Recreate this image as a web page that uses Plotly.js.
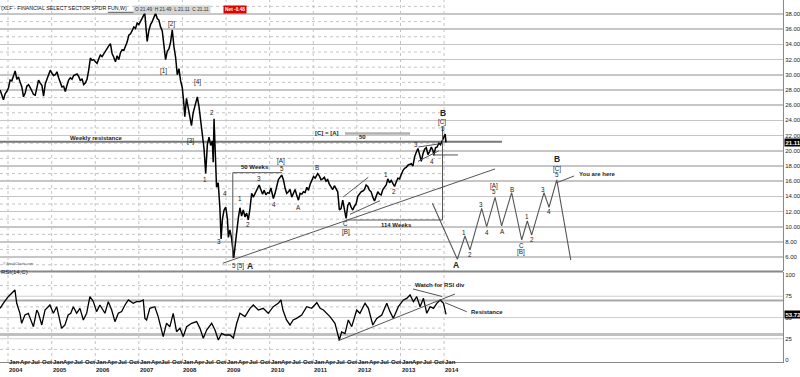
<!DOCTYPE html>
<html><head><meta charset="utf-8">
<script src="https://cdn.plot.ly/plotly-3.0.1.min.js"></script>
<style>html,body{margin:0;padding:0;background:#fff}#chart{width:800px;height:377px}</style>
</head><body><div id="chart"></div>
<script>
// ---------- DATA ----------
const priceDates = [
'2003-10-27','2003-11-10','2003-11-24','2003-12-08','2003-12-22',
'2004-01-05','2004-01-19','2004-02-02','2004-02-16','2004-03-01','2004-03-15','2004-03-29','2004-04-12','2004-04-26','2004-05-10','2004-05-24','2004-06-07','2004-06-21','2004-07-05','2004-07-19','2004-08-02','2004-08-16','2004-08-30','2004-09-13','2004-09-27','2004-10-11','2004-10-25','2004-11-08','2004-11-22','2004-12-06','2004-12-20',
'2005-01-03','2005-01-17','2005-01-31','2005-02-14','2005-02-28','2005-03-14','2005-03-28','2005-04-11','2005-04-25','2005-05-09','2005-05-23','2005-06-06','2005-06-20','2005-07-04','2005-07-18','2005-08-01','2005-08-15','2005-08-29','2005-09-12','2005-09-26','2005-10-10','2005-10-24','2005-11-07','2005-11-21','2005-12-05','2005-12-19',
'2006-01-02','2006-01-16','2006-01-30','2006-02-13','2006-02-27','2006-03-13','2006-03-27','2006-04-10','2006-04-24','2006-05-08','2006-05-22','2006-06-05','2006-06-19','2006-07-03','2006-07-17','2006-07-31','2006-08-14','2006-08-28','2006-09-11','2006-09-25','2006-10-09','2006-10-23','2006-11-06','2006-11-20','2006-12-04','2006-12-18',
'2007-01-01','2007-01-15','2007-01-29','2007-02-12','2007-02-20','2007-03-05','2007-03-12','2007-03-26','2007-04-09','2007-04-23','2007-05-07','2007-05-21','2007-06-04','2007-06-18','2007-07-02','2007-07-16','2007-07-30','2007-08-13','2007-08-27','2007-09-10','2007-09-24','2007-10-08','2007-10-22','2007-11-05','2007-11-19','2007-12-03','2007-12-17','2007-12-31',
'2008-01-14','2008-01-21','2008-02-04','2008-02-18','2008-03-03','2008-03-17','2008-03-31','2008-04-14','2008-04-28','2008-05-05','2008-05-19','2008-06-02','2008-06-16','2008-06-30','2008-07-14','2008-07-28','2008-08-11','2008-08-25','2008-09-08','2008-09-15','2008-09-22','2008-09-29','2008-10-06','2008-10-13','2008-10-27','2008-11-10','2008-11-20','2008-12-01','2008-12-15','2008-12-29',
'2009-01-12','2009-01-20','2009-02-02','2009-02-16','2009-03-06','2009-03-16','2009-03-30','2009-04-13','2009-04-27','2009-05-11','2009-05-25','2009-06-08','2009-06-22','2009-07-06','2009-07-20','2009-08-03','2009-08-17','2009-08-31','2009-09-14','2009-10-05','2009-10-19','2009-11-02','2009-11-16','2009-11-30','2009-12-14','2009-12-28',
'2010-01-11','2010-02-01','2010-02-15','2010-03-01','2010-03-15','2010-04-12','2010-04-26','2010-05-10','2010-05-24','2010-06-07','2010-06-21','2010-07-05','2010-07-19','2010-08-02','2010-08-16','2010-08-30','2010-09-13','2010-09-27','2010-10-11','2010-10-25','2010-11-08','2010-11-22','2010-12-06','2010-12-20',
'2011-01-03','2011-01-17','2011-02-07','2011-02-21','2011-03-07','2011-03-21','2011-04-04','2011-04-18','2011-05-02','2011-05-16','2011-05-30','2011-06-13','2011-06-27','2011-07-11','2011-07-25','2011-08-08','2011-08-22','2011-09-05','2011-09-19','2011-10-03','2011-10-17','2011-10-31','2011-11-14','2011-11-28','2011-12-12','2011-12-26',
'2012-01-09','2012-01-23','2012-02-06','2012-02-20','2012-03-05','2012-03-19','2012-04-02','2012-04-16','2012-04-30','2012-05-14','2012-05-28','2012-06-11','2012-06-25','2012-07-09','2012-07-23','2012-08-06','2012-08-20','2012-09-03','2012-09-17','2012-10-01','2012-10-15','2012-10-29','2012-11-12','2012-11-26','2012-12-10','2012-12-24',
'2013-01-07','2013-01-21','2013-02-04','2013-02-18','2013-03-04','2013-03-18','2013-04-01','2013-04-15','2013-04-29','2013-05-13','2013-05-27','2013-06-10','2013-06-24','2013-07-08','2013-07-22','2013-08-05','2013-08-19','2013-09-02','2013-09-16','2013-09-30','2013-10-07','2013-10-21','2013-11-04','2013-11-18','2013-12-02','2013-12-16','2013-12-30',
'2014-01-10','2014-01-17'
];
const priceClose = [
28.0,27.4,26.7,27.5,27.8,
28.3,29.3,29.2,30.0,30.5,29.4,29.7,29.0,28.4,27.1,27.6,28.5,28.7,28.3,27.8,27.4,27.3,28.4,29.3,28.9,28.6,27.2,28.8,29.4,29.9,30.6,
30.2,29.9,30.0,30.4,29.6,29.0,28.4,28.5,27.8,28.6,29.3,29.6,29.4,29.9,30.0,30.1,29.8,29.2,29.5,28.7,28.9,29.4,30.6,32.2,31.9,32.0,
31.7,31.5,32.1,32.6,32.4,32.8,33.1,33.5,33.8,34.1,32.8,32.3,31.7,32.5,32.0,32.9,33.3,33.2,33.7,34.3,35.2,35.4,35.8,36.3,36.1,36.8,
36.6,37.0,37.3,37.9,38.1,35.6,34.4,35.8,36.6,37.0,37.6,38.1,37.4,37.2,36.3,35.8,33.9,32.0,33.1,33.4,34.3,35.9,33.7,32.3,30.0,30.8,29.2,28.3,
26.0,24.5,26.9,25.7,24.6,23.3,25.0,25.8,26.4,27.1,25.8,24.0,22.4,20.3,17.0,20.8,21.8,20.7,21.3,18.5,24.2,20.5,16.0,15.2,15.8,12.5,8.4,11.0,12.2,12.6,
11.0,8.6,9.6,8.5,5.9,7.4,8.7,11.1,12.5,11.4,12.2,11.3,11.8,10.9,12.4,14.4,13.9,14.4,14.8,15.5,14.9,14.3,14.8,14.2,14.5,14.4,
15.1,13.7,14.4,15.3,16.2,16.8,16.2,15.1,14.4,14.6,14.9,13.9,14.5,14.9,14.1,13.5,14.4,14.3,14.6,14.5,15.2,14.8,15.6,16.0,
16.6,16.4,17.0,16.7,16.2,16.3,16.5,16.0,16.2,15.6,15.3,14.9,15.4,15.0,14.6,12.2,12.4,13.5,12.3,11.1,12.8,13.2,12.6,12.2,12.7,13.0,
14.0,14.4,14.6,14.7,14.9,15.5,15.3,14.8,14.6,13.9,13.4,14.0,14.6,14.3,14.2,14.9,15.2,15.5,16.3,15.8,16.1,15.6,15.3,15.9,16.4,16.3,
17.0,17.4,17.7,17.8,18.1,18.2,18.3,18.0,19.2,19.8,20.3,19.5,18.6,19.6,20.2,20.4,19.5,19.9,20.5,20.0,19.4,20.4,20.5,21.0,20.8,21.3,21.9,
22.2,21.11
];
const rsiDates = [
'2003-10-27','2003-11-22','2004-01-03','2004-02-14','2004-02-28','2004-03-14','2004-04-10','2004-04-24','2004-05-22','2004-06-19','2004-08-01','2004-08-29','2004-09-12','2004-10-10','2004-11-06','2004-12-17',
'2005-01-15','2005-02-12','2005-03-25','2005-04-22','2005-05-19','2005-06-10','2005-07-01','2005-07-29','2005-08-26','2005-09-23','2005-10-21','2005-11-17','2005-12-15',
'2006-01-12','2006-02-09','2006-03-23','2006-04-20','2006-05-18','2006-06-15','2006-07-13','2006-08-10','2006-09-07','2006-10-05','2006-11-15','2006-12-13',
'2007-01-10','2007-02-07','2007-02-21','2007-03-07','2007-04-03','2007-05-15','2007-06-12','2007-07-24','2007-08-21','2007-09-18','2007-10-16','2007-11-13','2007-12-11',
'2008-01-08','2008-02-05','2008-03-18','2008-04-29','2008-05-27','2008-06-24','2008-07-22','2008-09-02','2008-09-30','2008-10-28','2008-11-25','2008-12-23',
'2009-02-03','2009-03-03','2009-03-31','2009-04-27','2009-06-08','2009-07-20','2009-08-17','2009-09-28','2009-11-08','2009-12-20',
'2010-01-31','2010-03-14','2010-04-05','2010-04-22','2010-05-22','2010-06-20','2010-07-17','2010-08-14','2010-09-26','2010-11-07','2010-12-19',
'2011-01-31','2011-02-28','2011-03-27','2011-04-24','2011-05-21','2011-07-02','2011-07-16','2011-08-07','2011-08-27','2011-09-24','2011-10-22','2011-11-19','2011-12-31',
'2012-01-27','2012-03-10','2012-04-07','2012-05-14','2012-06-16','2012-07-28','2012-09-08','2012-10-05','2012-11-02','2012-12-14',
'2013-01-25','2013-02-22','2013-03-22','2013-04-19','2013-05-17','2013-06-14','2013-07-12','2013-08-09','2013-09-06','2013-10-04','2013-11-01','2013-11-29','2013-12-27',
'2014-01-17'
];
const rsiValues = [
60.8,66.7,74.5,80.4,82.4,66.7,54.9,43.2,52.9,54.9,39.2,58.8,55.0,41.2,58.8,64.7,
54.9,62.7,37.3,41.2,52.9,55.0,62.7,55.0,60.8,47.1,55.0,74.5,69.0,
56.9,64.7,55.0,68.6,59.0,45.1,55.0,57.0,64.7,70.6,66.7,68.6,
68.6,70.6,49.0,47.1,60.8,62.7,51.0,27.5,43.2,39.2,54.9,33.3,37.3,
27.5,39.2,43.2,45.1,37.3,25.5,35.3,43.2,35.3,23.5,31.4,29.4,
29.4,25.9,43.2,54.9,51.0,60.8,64.7,58.8,60.8,54.9,
62.7,66.7,70.6,58.8,47.1,41.2,47.1,49.0,52.9,62.7,60.8,
67.4,60.8,58.8,54.9,51.0,43.2,35.3,23.5,33.0,31.0,47.1,39.2,58.8,
54.9,66.7,60.8,41.2,49.0,52.9,66.7,56.9,49.0,62.7,
70.6,72.5,76.5,68.6,74.5,62.7,72.5,54.9,62.7,60.8,66.7,70.6,66.7,
53.7
];
// hand-drawn projected path (decimal years / price)
const projYears  = [2013.732,2014.305,2014.482,2014.596,2014.865,2014.979,2015.170,2015.323,2015.553,2015.782,2015.911,2016.011,2016.294,2016.408,2016.585,2016.906];
const projPrices = [13.09,5.72,8.79,6.95,12.43,10.01,13.88,10.11,14.49,8.26,10.76,8.92,14.49,12.57,16.16,5.63];
// wave count labels [text, decimal year, price]
const waveLabels = [
['[2]',2007.755,36.68],['[1]',2007.578,30.5],['[4]',2008.342,29.09],['2',2008.686,25.07],['[3]',2008.19,21.33],
['1',2008.518,16.16],['4',2008.977,14.32],['3',2008.839,8.04],['5',2009.183,4.88],['[5]',2009.337,4.88],
['1',2009.321,13.66],['2',2009.511,10.33],['3',2009.764,16.29],['[A]',2010.261,18.66],['5',2010.278,17.70],
['4',2010.101,12.96],['A',2010.658,12.57],['B',2011.08,17.78],['C',2011.752,10.46],['[B]',2011.752,9.36],
['1',2012.67,16.91],['2',2012.86,14.62],['3',2013.351,20.89],['4',2013.718,18.57],['5',2013.984,22.87],['[C]',2013.954,23.75],
['1',2014.466,9.28],['2',2014.596,6.29],['3',2014.849,12.96],['4',2014.979,9.22],['[A]',2015.147,15.41],['5',2015.147,14.62],
['A',2015.337,9.36],['B',2015.553,14.97],['C',2015.782,7.47],['[B]',2015.759,6.72],['1',2015.897,11.33],['2',2016.025,8.36],
['3',2016.278,14.93],['4',2016.415,11.99],['[C]',2016.585,17.62],['5',2016.599,16.85]
];
const bigLabels = [['A',2009.55,4.88],['B',2013.97,25.0],['A',2014.275,4.97],['B',2016.599,18.9]];
const noteLabels = [['Weekly resistance',2006.041,21.62],['50 Weeks',2009.665,17.91],['114 Weeks',2012.899,10.24],['[C] = [A]',2011.328,22.34],['50',2012.142,21.82]];
// drawn lines [year0, value0, year1, value1]
const priceLines = [
[2008.924,5.20,2015.17,17.61],
[2011.69,13.92,2012.264,16.51],
[2011.844,11.64,2012.532,13.43],
[2009.154,5.86,2009.154,17.12],[2009.154,17.12,2010.284,17.12],
[2011.752,10.89,2013.966,10.89],[2013.966,10.89,2013.966,23.0],
[2006.29,38.22,2007.42,38.22],
[2013.75,19.45,2014.32,19.45],
[2013.41,20.5,2013.88,20.9],[2013.40,18.6,2013.88,20.0],
[2016.585,15.8,2016.982,16.68]
];
const weeklyResistance = [2003.80,21.2,2015.33,21.2];
const cEqualsA = [2011.73,22.28,2013.22,22.28];
const rsiLines = [[2011.576,22.7,2014.252,77.6],[2013.289,83.5,2013.954,74.7],[2014.023,67.4,2014.521,56.8]];
const monthNames = ['Jan','Apr','Jul','Oct'];
const years = [2004,2005,2006,2007,2008,2009,2010,2011,2012,2013];
const lastPrice = 21.11, lastRsi = 53.72;

// ---------- helpers ----------
function yr(t){const y=Math.floor(t);const a=Date.UTC(y,0,1),b=Date.UTC(y+1,0,1);return new Date(a+(t-y)*(b-a)).toISOString().slice(0,10);}
const X0 = yr(2003.8165), X1 = yr(2021.775);
const PH = 362;
const F = 'Liberation Sans, Arial, sans-serif';

const traces = [
 {x:priceDates,y:priceClose,type:'scatter',mode:'lines',line:{color:'#000',width:1.5},xaxis:'x',yaxis:'y',hoverinfo:'skip'},
 {x:projYears.map(yr),y:projPrices,type:'scatter',mode:'lines',line:{color:'#555',width:1.1},xaxis:'x',yaxis:'y',hoverinfo:'skip'},
 {x:rsiDates,y:rsiValues,type:'scatter',mode:'lines',line:{color:'#000',width:1.3},xaxis:'x',yaxis:'y2',hoverinfo:'skip'}
];

const shapes = [];
const L = (x0,y0,x1,y1,yref,color,width,dash)=>shapes.push({type:'line',xref:'x',yref:yref,x0:x0,y0:y0,x1:x1,y1:y1,line:{color:color,width:width,dash:dash||'solid'},layer:'below'});
for(let p=5;p<=39;p+=2) L(X0,p,'2014-01-01',p,'y','#c4c4c4',1,'dot');
[12.5,37.5,62.5,87.5].forEach(v=>L(X0,v,'2014-01-01',v,'y2','#c4c4c4',1,'dot'));
for(let y=2004;y<=2014;y++) shapes.push({type:'line',xref:'x',yref:'paper',x0:y+'-01-01',x1:y+'-01-01',y0:0,y1:1,line:{color:'#c4c4c4',width:1,dash:'dot'},layer:'below'});
[25,50,75].forEach(v=>L(X0,v,X1,v,'y2','#cfcfcf',1));
L(X0,70,X1,70,'y2','#a8a8a8',2);
L(X0,30,X1,30,'y2','#c0c0c0',3);
shapes.push({type:'line',xref:'paper',yref:'paper',x0:0,x1:1,y0:0.2503,y1:0.2503,line:{color:'#888',width:2}});
L(yr(weeklyResistance[0]),weeklyResistance[1],yr(weeklyResistance[2]),weeklyResistance[3],'y','#777',2);
L(yr(cEqualsA[0]),cEqualsA[1],yr(cEqualsA[2]),cEqualsA[3],'y','#b0b0b0',2.5);
priceLines.forEach(s=>shapes.push({type:'line',xref:'x',yref:'y',x0:yr(s[0]),y0:s[1],x1:yr(s[2]),y1:s[3],line:{color:'#555',width:1}}));
rsiLines.forEach(s=>shapes.push({type:'line',xref:'x',yref:'y2',x0:yr(s[0]),y0:s[1],x1:yr(s[2]),y1:s[3],line:{color:'#555',width:1}}));

const ann = [];
const A = (o)=>ann.push(Object.assign({showarrow:false,borderpad:0,font:{family:F,size:6.3,color:'#222'}},o));
waveLabels.forEach(w=>A({text:w[0],x:yr(w[1]),y:w[2],xref:'x',yref:'y'}));
bigLabels.forEach(w=>A({text:'<b>'+w[0]+'</b>',x:yr(w[1]),y:w[2],xref:'x',yref:'y',font:{family:F,size:8.5,color:'#222'}}));
noteLabels.forEach(w=>A({text:'<b>'+w[0]+'</b>',x:yr(w[1]),y:w[2],xref:'x',yref:'y',font:{family:F,size:6,color:'#222'}}));
A({text:'<b>You are here</b>',x:yr(2017.073),y:16.91,xref:'x',yref:'y',xanchor:'left',font:{family:F,size:6,color:'#222'}});
A({text:'<b>Watch for RSI div</b>',x:yr(2013.312),y:88.2,xref:'x',yref:'y2',xanchor:'left',font:{family:F,size:6,color:'#222'}});
A({text:'<b>Resistance</b>',x:yr(2014.596),y:56.8,xref:'x',yref:'y2',xanchor:'left',font:{family:F,size:6,color:'#222'}});
A({text:'RSI(14,C)',x:0,y:1-275.5/PH,xref:'paper',yref:'paper',xanchor:'left',font:{family:F,size:6,color:'#222'}});
A({text:'© StockCharts.com',x:0.002,y:1-267/PH,xref:'paper',yref:'paper',xanchor:'left',font:{family:F,size:3.5,color:'#444'}});
A({text:'(XLF - FINANCIAL SELECT SECTOR SPDR FUN,W)',x:0,y:1-4/PH,xref:'paper',yref:'paper',xanchor:'left',font:{family:F,size:5.3,color:'#111'}});
A({text:'O 21.49  H 21.49  L 21.11  C 21.11',x:133/783,y:1-4.5/PH,xref:'paper',yref:'paper',xanchor:'left',bgcolor:'#d6d6d6',borderpad:1,font:{family:F,size:4.8,color:'#333'}});
A({text:'<b>Net -0.48</b>',x:223/783,y:1-4.5/PH,xref:'paper',yref:'paper',xanchor:'left',bgcolor:'#e00000',borderpad:1,font:{family:F,size:4.8,color:'#fff'}});
A({text:'<b>'+lastPrice.toFixed(2)+'</b>',x:1,y:lastPrice,xref:'paper',yref:'y',xanchor:'left',xshift:1,bgcolor:'#000',borderpad:0.5,font:{family:F,size:6,color:'#fff'}});
A({text:'<b>'+lastRsi.toFixed(2)+'</b>',x:1,y:lastRsi,xref:'paper',yref:'y2',xanchor:'left',xshift:1,bgcolor:'#000',borderpad:0.5,font:{family:F,size:6,color:'#fff'}});
years.forEach(y=>{monthNames.forEach((m,i)=>A({text:'<b>'+m+'</b>',x:y+'-'+String(1+3*i).padStart(2,'0')+'-01',y:-(366-PH)/PH,xref:'x',yref:'paper',xanchor:'left',font:{family:F,size:6,color:'#222'}}));
 A({text:'<b>'+y+'</b>',x:y+'-01-01',y:-(374-PH)/PH,xref:'x',yref:'paper',xanchor:'left',font:{family:F,size:6,color:'#222'}});});
A({text:'<b>Jan</b>',x:'2014-01-01',y:-(366-PH)/PH,xref:'x',yref:'paper',xanchor:'left',font:{family:F,size:6,color:'#222'}});
A({text:'<b>2014</b>',x:'2014-01-01',y:-(374-PH)/PH,xref:'x',yref:'paper',xanchor:'left',font:{family:F,size:6,color:'#222'}});

const layout = {
 width:800,height:377,margin:{l:0,r:17,t:0,b:15},paper_bgcolor:'#fff',plot_bgcolor:'#fff',showlegend:false,
 font:{family:F,size:6,color:'#222'},
 xaxis:{type:'date',range:[X0,X1],showticklabels:false,showgrid:false,zeroline:false,showline:true,linecolor:'#888',linewidth:1,anchor:'y2',fixedrange:true},
 yaxis:{domain:[0.2514,1],range:[4.18,39.84],side:'right',anchor:'x',dtick:2,tick0:0,tickformat:'.2f',showgrid:true,gridcolor:'#c6c6c6',gridwidth:1.5,showline:true,linecolor:'#888',linewidth:1,ticks:'',tickfont:{family:F,size:6,color:'#222'},zeroline:false,fixedrange:true},
 yaxis2:{domain:[0,0.2486],range:[-2.35,103.5],side:'right',anchor:'x',tickvals:[0,25,50,75,100],showgrid:false,showline:true,linecolor:'#888',linewidth:1,ticks:'',tickfont:{family:F,size:6,color:'#222'},zeroline:false,fixedrange:true},
 shapes:shapes,annotations:ann
};
Plotly.newPlot('chart',traces,layout,{staticPlot:true,displayModeBar:false});
</script></body></html>
